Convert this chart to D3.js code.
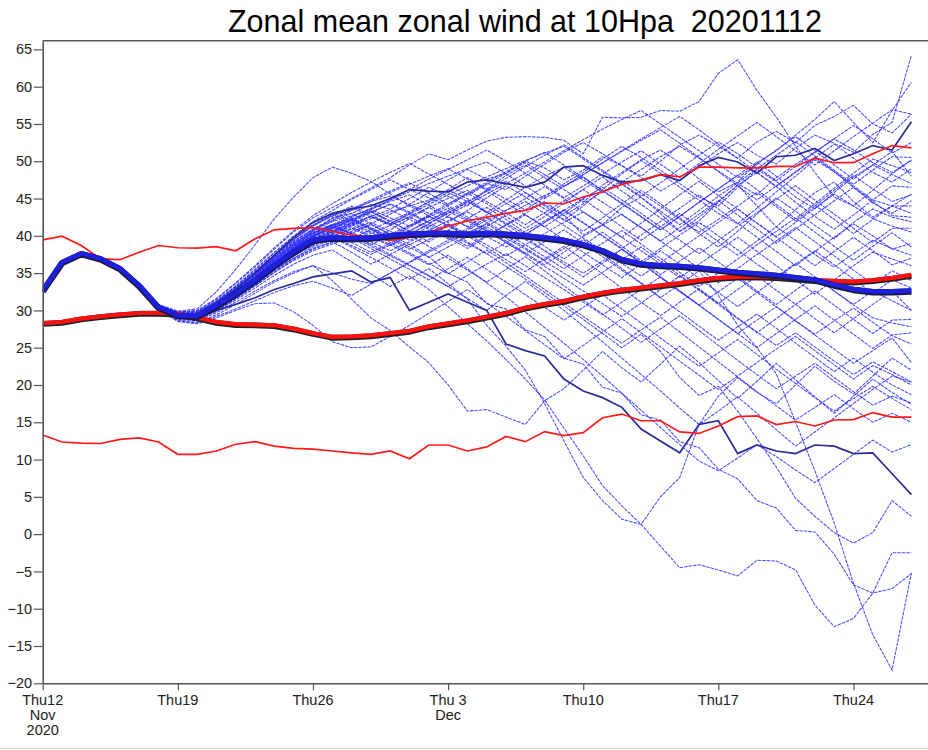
<!DOCTYPE html>
<html><head><meta charset="utf-8">
<script src="https://cdn.jsdelivr.net/npm/d3@7"></script>
<style>
body{margin:0;background:#fff;}
svg{display:block;font-family:"Liberation Sans",Arial,Helvetica,sans-serif;}
</style>
</head><body>
<svg id="chart" width="928" height="750"></svg>
<script>
// ---------------- DATA ----------------
const titleText = "Zonal mean zonal wind at 10Hpa  20201112";
const forecastDays = d3.range(46); // day 0 = Thu 12 Nov 2020 ... day 45 = 27 Dec

const xTickDays  = [0, 7, 14, 21, 28, 35, 42];
const xTickLine1 = ["Thu12", "Thu19", "Thu26", "Thu 3", "Thu10", "Thu17", "Thu24"];
const xTickLine2 = ["Nov", "", "", "Dec", "", "", ""];
const xTickLine3 = ["2020", "", "", "", "", "", ""];
const yTicks = [-20, -15, -10, -5, 0, 5, 10, 15, 20, 25, 30, 35, 40, 45, 50, 55, 60, 65];

const ensMean = [32.6,36.4,37.6,36.9,35.6,33.3,30.4,29.3,29.2,30.6, 32.2,34.0,36.0,37.8,39.4,39.7,39.6,39.7,40.0,40.2, 40.3,40.3,40.2,40.3,40.2,40.0,39.7,39.4,38.8,38.0, 36.8,36.2,36.0,35.9,35.7,35.4,35.1,34.9,34.7,34.4, 34.1,33.4,32.8,32.5,32.5,32.6];
const climMean = [28.25,28.4,28.85,29.15,29.4,29.6,29.6,29.5,29.0,28.4, 28.1,28.05,27.95,27.5,26.9,26.4,26.45,26.6,26.9,27.2, 27.8,28.2,28.6,29.1,29.6,30.3,30.8,31.2,31.8,32.3, 32.7,33.0,33.3,33.6,34.0,34.3,34.45,34.5,34.4,34.2, 34.0,33.9,33.8,34.0,34.3,34.7];
const climMax = [39.45,39.95,38.7,36.9,36.8,37.8,38.7,38.4,38.35,38.55, 38.0,39.6,40.8,41.0,41.1,40.6,40.1,39.8,39.4,39.8, 40.4,41.3,42.0,42.5,43.0,43.4,44.4,44.3,45.2,45.9, 46.9,47.5,48.2,47.9,49.2,49.2,49.1,49.1,49.3,49.3, 50.4,49.8,49.8,51.0,52.1,51.8];
const climMin = [13.3,12.35,12.2,12.15,12.7,12.9,12.35,10.7,10.7,11.15, 12.05,12.4,11.8,11.5,11.4,11.15,10.9,10.7,11.15,10.1, 11.95,11.95,11.15,11.7,13.1,12.4,13.75,13.2,13.6,15.6, 16.1,15.2,15.2,13.7,13.5,14.5,15.75,15.85,14.7,15.1, 14.5,15.3,15.35,16.3,15.7,15.7];
const controlA = [32.6,36.4,37.6,36.9,35.6,33.3,30.5,29.4,29.4,30.9, 32.8,35.0,37.4,39.8,41.8,43.0,43.6,44.0,45.0,46.2, 46.0,45.9,47.2,47.5,47.0,46.5,47.2,49.2,49.4,48.1, 47.2,47.4,48.2,47.4,49.4,50.5,49.9,48.4,50.6,50.8, 51.7,50.1,51.0,52.1,51.5,55.3];
const controlB = [32.6,36.4,37.6,36.9,35.6,33.3,30.4,29.2,29.1,30.0, 30.8,31.7,32.8,33.6,34.5,34.9,35.3,33.8,34.4,30.0, 31.1,32.2,31.1,30.0,25.5,24.6,23.9,20.8,19.2,18.3, 17.0,14.1,12.5,10.9,14.7,15.2,10.8,11.95,11.15,10.8, 11.95,11.8,10.8,10.9,8.1,5.3];

const m01 = [32.6,36.4,37.6,36.9,35.7,33.5,30.8,29.9,30.2,32.5, 35.5,38.8,42.3,45.2,47.8,49.2,48.4,47.3,45.6,44.0, 44.8,46.1,45.0,43.2,41.5,43.0,44.6,42.8,40.1,41.5, 43.8,45.2,43.0,40.6,42.0,44.5,46.8,44.0,41.2,43.5, 45.8,47.2,44.6,42.5,44.0,45.6];
const m02 = [32.6,36.4,37.6,36.9,35.6,33.4,30.7,29.8,29.9,31.5, 33.6,35.8,38.2,40.5,42.4,43.8,45.0,46.4,47.8,49.5, 51.0,50.2,51.5,52.7,53.2,53.3,53.2,52.8,51.0,55.9, 55.8,55.9,56.8,56.7,58.0,61.8,63.6,59.5,55.9,52.0, 48.5,45.2,44.0,46.1,48.3,50.2];
const m03 = [32.6,36.4,37.6,36.9,35.6,33.2,30.5,29.4,29.4,30.9, 32.8,34.9,37.2,39.5,41.3,42.8,43.5,44.6,45.3,44.2, 45.8,47.5,48.9,47.6,48.4,50.0,49.1,47.5,48.8,50.6, 49.4,47.8,46.0,47.5,49.2,51.0,52.5,50.8,49.6,51.8, 53.5,52.4,51.2,53.6,55.2,64.2];
const m04 = [32.6,36.4,37.6,36.9,35.6,33.3,30.4,29.2,29.0,30.4, 32.1,34.0,36.3,38.4,40.6,42.4,43.0,44.2,43.6,45.0, 46.5,45.3,44.0,46.2,48.1,49.5,47.8,46.2,44.5,46.8, 48.5,50.2,51.5,49.8,47.6,45.9,47.2,49.8,51.4,53.5, 55.6,58.0,55.2,52.5,56.8,60.6];
const m05 = [32.6,36.4,37.6,36.9,35.6,33.3,30.5,29.5,29.6,31.0, 32.9,35.1,37.4,39.6,41.5,42.9,42.0,43.5,44.8,46.2, 45.1,44.0,45.6,47.0,46.2,48.0,49.6,51.2,52.5,51.0, 49.4,48.0,50.0,52.2,53.5,52.0,50.4,52.6,54.0,52.5, 54.8,56.0,57.5,55.0,53.8,56.3];
const m06 = [32.6,36.4,37.6,36.9,35.6,33.3,30.3,29.1,29.0,30.3, 32.0,33.8,35.9,37.7,39.2,40.5,41.8,43.1,44.3,43.2, 44.5,45.8,44.6,43.1,44.8,46.5,48.0,49.2,47.5,45.8, 47.2,48.9,50.6,52.0,50.4,48.7,47.0,45.5,47.8,49.6, 51.2,53.0,51.5,49.8,48.5,50.1];
const m07 = [32.6,36.4,37.6,36.9,35.6,33.4,30.6,29.7,29.8,31.2, 33.2,35.4,37.7,39.8,41.4,42.6,43.8,42.5,41.6,43.0, 44.6,46.2,47.8,46.3,44.9,43.5,45.2,47.0,48.5,50.3, 52.0,50.5,48.8,47.0,45.2,44.0,46.5,48.9,47.3,45.2, 43.6,45.8,47.9,49.5,48.2,47.0];
const m08 = [32.6,36.4,37.6,36.9,35.6,33.2,30.3,29.2,29.1,30.5, 32.3,34.3,36.4,38.3,40.0,41.2,40.3,41.6,42.9,44.2, 43.0,41.8,43.4,45.1,46.7,45.2,43.6,42.1,44.0,46.2, 48.3,50.1,48.4,46.5,44.8,43.0,41.6,43.7,45.9,48.0, 50.2,48.6,46.5,44.4,43.0,44.7];
const m09 = [32.6,36.4,37.6,36.9,35.6,33.3,30.4,29.3,29.3,30.7, 32.5,34.5,36.8,38.9,40.7,41.9,42.7,43.5,42.4,41.3, 42.8,44.3,45.7,44.3,42.6,41.0,42.6,44.4,46.2,47.9, 46.0,44.2,42.4,40.6,42.5,44.6,46.8,48.5,46.6,44.5, 42.6,40.9,42.8,44.8,44.0,43.0];
const m10 = [32.6,36.4,37.6,36.9,35.6,33.3,30.5,29.4,29.5,31.0, 32.8,34.9,37.1,39.0,40.6,41.5,40.4,39.5,40.8,42.3, 43.8,42.5,41.2,42.8,44.3,45.8,44.0,42.2,40.6,42.4, 44.3,46.1,44.3,42.4,40.3,38.5,40.6,42.9,45.1,43.3, 41.4,39.6,41.8,43.6,42.5,41.9];
const m11 = [32.6,36.4,37.6,36.9,35.6,33.3,30.4,29.2,29.2,30.6, 32.4,34.4,36.4,38.2,39.9,41.1,42.2,41.0,39.8,41.1, 42.6,41.4,40.0,41.7,43.4,45.0,46.6,45.0,43.2,41.5, 39.8,41.7,43.6,45.5,47.3,45.4,43.6,41.7,39.9,41.8, 43.7,45.6,44.0,42.3,41.3,40.5];
const m12 = [32.6,36.4,37.6,36.9,35.6,33.3,30.4,29.2,29.0,30.3, 31.9,33.8,35.8,37.6,39.0,40.2,41.4,42.6,41.5,40.2, 41.6,43.0,44.5,46.0,44.4,42.8,41.2,43.0,44.9,43.1, 41.2,39.4,41.2,43.0,41.1,39.2,37.4,39.3,41.2,39.4, 37.5,35.8,37.6,39.4,38.3,37.4];
const m13 = [32.6,36.4,37.6,36.9,35.6,33.3,30.3,29.0,28.9,30.2, 31.8,33.6,35.5,37.3,38.9,40.0,41.0,39.8,38.7,39.9, 41.2,42.6,41.3,39.9,38.5,40.1,41.8,43.5,41.8,40.0, 38.2,36.5,38.3,40.1,41.8,40.0,38.1,36.2,34.5,36.3, 34.5,32.6,30.8,32.6,31.3,30.0];
const m14 = [32.6,36.4,37.6,36.9,35.6,33.3,30.5,29.5,29.4,30.8, 32.6,34.6,36.7,38.6,40.2,41.3,42.3,43.3,42.0,40.6, 39.2,40.7,42.3,43.8,42.2,40.4,38.6,36.9,38.7,40.5, 38.6,36.7,34.8,36.6,38.4,36.5,34.5,32.6,30.8,32.7, 34.5,32.6,30.7,29.0,28.3,27.8];
const m15 = [32.6,36.4,37.6,36.9,35.6,33.3,30.4,29.3,29.3,30.6, 32.3,34.2,36.2,38.0,39.5,40.6,41.5,40.3,41.4,42.5, 41.2,39.8,38.3,39.9,41.5,39.8,38.0,36.2,34.5,36.3, 38.2,36.3,34.4,32.5,30.7,32.5,34.3,32.4,30.5,28.6, 26.8,28.6,30.3,28.4,26.6,25.5];
const m16 = [32.6,36.4,37.6,36.9,35.6,33.3,30.4,29.1,29.0,30.2, 31.9,33.7,35.6,37.3,38.7,39.7,40.6,41.5,40.2,38.8, 40.1,41.5,40.0,38.4,36.8,35.2,36.9,38.6,36.8,34.9, 33.0,31.1,29.3,31.1,32.9,31.0,29.0,27.1,25.3,27.0, 25.1,23.2,21.4,23.1,21.8,20.4];
const m17 = [32.6,36.4,37.6,36.9,35.6,33.3,30.6,29.6,29.7,31.2, 33.1,35.2,37.4,39.3,40.9,42.0,43.0,41.6,40.2,41.4, 42.7,44.0,42.5,40.9,39.3,37.7,36.1,37.8,39.5,37.6, 35.6,33.7,31.7,29.8,27.9,26.0,27.8,29.5,27.6,25.6, 23.7,21.8,23.6,21.7,20.0,18.7];
const m18 = [32.6,36.4,37.6,36.9,35.6,33.3,30.4,29.3,29.2,30.5, 32.1,33.9,35.8,37.5,38.9,39.9,38.7,37.5,38.8,40.1, 38.6,37.0,35.4,33.8,35.5,37.2,35.3,33.3,31.4,29.5, 27.6,25.7,27.5,29.3,27.3,25.3,23.3,21.4,19.5,21.2, 22.9,21.0,19.1,17.3,18.5,17.6];
const m19 = [32.6,36.4,37.6,36.9,35.6,33.3,30.3,29.0,28.8,30.0, 31.6,33.3,35.1,36.7,38.0,38.9,39.7,38.3,36.9,35.5, 34.1,35.6,37.1,35.5,33.8,32.1,30.4,28.7,30.4,32.1, 30.2,28.3,26.3,24.4,22.5,24.3,26.1,24.1,22.1,20.2, 18.3,16.5,18.2,19.8,18.2,16.7];
const m20 = [32.6,36.4,37.6,36.9,35.6,33.3,30.5,29.4,29.5,30.9, 32.7,34.7,36.7,38.5,40.0,41.0,41.8,40.5,39.1,37.7, 36.3,34.9,36.5,38.1,36.4,34.6,32.8,31.0,29.2,27.4, 25.6,27.4,29.1,27.1,25.1,23.1,21.1,19.1,17.2,15.3, 17.0,18.7,16.8,15.0,16.2,15.0];
const m21 = [32.6,36.4,37.6,36.9,35.6,33.3,30.5,29.4,29.4,30.8, 32.6,34.5,36.6,38.5,40.0,41.1,42.0,40.8,39.5,40.7, 42.0,43.3,42.0,40.6,39.1,37.6,39.2,40.8,39.0,37.2, 35.4,33.6,31.7,33.5,35.3,32.0,28.0,25.0,21.5,15.0, 8.5,1.5,-6.6,-13.5,-18.2,-5.2];
const m22 = [32.6,36.4,37.6,36.9,35.6,33.3,30.3,29.1,29.0,30.2, 31.8,33.5,35.4,37.0,38.3,39.2,37.8,36.2,37.5,38.9, 37.2,35.0,33.8,30.9,30.2,27.4,26.5,23.6,22.8,19.7, 18.9,16.0,15.3,12.4,11.6,8.7,7.4,4.5,3.5,0.5, 0.3,-2.7,-6.8,-7.9,-7.3,-5.3];
const m23 = [32.6,36.4,37.6,36.9,35.6,33.3,30.4,29.2,29.1,30.4, 32.0,33.8,35.7,37.4,38.8,39.8,38.5,37.1,35.7,34.2, 35.6,33.6,31.5,28.0,25.2,22.0,17.5,12.5,7.6,4.5, 2.0,1.3,5.0,7.6,14.7,18.5,21.0,19.0,17.5,20.0, 22.5,20.5,18.8,21.2,23.6,22.0];
const m24 = [32.6,36.4,37.6,36.9,35.6,33.3,30.6,29.6,29.7,31.1, 32.9,34.9,37.0,38.9,40.4,41.4,42.2,40.9,39.6,38.2, 39.5,40.8,39.2,37.6,35.9,34.2,32.4,30.6,28.8,26.9, 25.0,26.8,24.5,21.0,18.6,19.8,16.5,12.8,9.0,4.8, 2.4,0.2,-1.2,0.2,4.5,2.4];
const m25 = [32.6,36.4,37.6,36.9,35.6,33.3,30.3,28.9,28.7,29.9, 31.4,33.0,34.7,36.2,37.4,38.1,36.5,34.9,33.2,34.6, 32.8,30.5,28.2,25.9,23.4,20.8,18.0,14.2,10.5,6.5, 3.8,1.3,-1.6,-4.5,-4.1,-4.8,-5.6,-3.5,-3.6,-4.8, -9.5,-12.4,-11.3,-7.9,-2.5,-2.5];
const m26 = [32.6,36.4,37.6,36.9,35.6,33.3,30.2,28.7,28.4,29.4, 30.8,32.3,33.8,35.0,36.0,34.0,31.5,29.0,27.3,25.1, 23.0,20.0,16.5,16.7,15.7,14.7,17.9,19.5,22.0,24.5, 22.3,20.4,22.8,25.2,23.0,20.6,18.2,20.5,22.9,20.7, 18.4,16.2,18.5,20.8,19.0,17.4];
const m27 = [32.6,36.4,37.6,36.9,35.6,33.3,30.4,29.2,29.1,30.5, 32.2,34.0,35.9,37.7,39.1,40.2,41.2,40.0,38.8,37.5, 36.1,37.4,35.6,33.7,31.8,29.8,27.7,25.6,23.4,21.2, 18.9,16.6,14.3,12.0,9.8,8.5,10.2,12.0,10.4,8.6, 6.9,8.8,10.7,12.6,11.0,12.0];
const m28 = [32.6,36.4,37.6,36.9,35.6,33.3,30.5,29.5,29.6,31.0, 32.8,34.8,36.9,38.8,40.4,41.5,40.2,38.9,37.5,36.1, 34.7,33.2,31.6,30.0,32.0,33.9,32.0,30.0,27.9,25.8, 23.6,21.4,19.2,16.9,14.7,16.5,18.4,16.2,14.0,11.8, 13.7,15.6,17.5,19.4,21.2,20.4];
const m29 = [32.6,36.4,37.6,36.9,35.6,33.3,30.4,29.3,29.3,30.7, 32.4,34.3,36.4,38.3,39.9,41.0,42.1,43.2,44.2,43.0, 41.7,43.1,44.6,46.0,47.3,45.8,44.2,42.7,44.3,45.9, 47.4,45.7,44.0,42.2,40.5,42.2,44.0,45.8,43.9,42.0, 44.0,46.1,48.1,46.3,44.6,45.5];
const m30 = [32.6,36.4,37.6,36.9,35.6,33.3,30.5,29.5,29.6,31.0, 32.9,35.0,37.2,39.2,40.9,42.3,43.6,44.8,46.0,47.1, 45.7,44.2,45.7,47.2,48.6,50.0,51.2,49.5,47.8,46.0, 44.3,42.5,40.8,42.6,44.5,46.3,48.1,46.2,44.2,42.3, 44.3,46.4,48.4,50.3,49.4,48.5];
const m31 = [32.6,36.4,37.6,36.9,35.6,33.3,30.3,29.0,28.9,30.2, 31.8,33.6,35.5,37.3,38.8,39.9,40.9,41.8,40.6,39.4, 40.7,42.0,43.2,41.8,40.3,38.8,37.2,35.6,37.3,39.0, 40.7,38.9,37.0,35.1,33.2,35.0,36.9,38.8,40.6,42.4, 40.5,38.6,36.7,38.6,40.4,38.5];
const m32 = [32.6,36.4,37.6,36.9,35.6,33.3,30.4,29.1,29.0,30.3, 32.0,33.8,35.8,37.6,39.2,40.3,39.1,37.8,39.0,40.3, 41.5,40.1,38.6,40.0,41.4,42.8,41.2,39.5,37.8,36.1, 34.4,36.2,38.0,36.2,34.3,32.4,30.5,32.4,34.3,36.2, 38.0,36.1,34.2,32.3,34.1,33.0];
const m33 = [32.6,36.4,37.6,36.9,35.6,33.3,30.4,29.3,29.2,30.6, 32.3,34.2,36.2,38.0,39.6,40.7,41.7,42.6,43.5,42.2, 40.9,39.6,41.0,42.4,41.0,39.5,38.0,36.5,35.0,36.6, 38.2,36.4,34.5,32.6,30.7,28.8,26.9,28.7,30.5,28.6, 26.7,24.8,22.9,24.6,26.3,23.0];
const m34 = [32.6,36.4,37.6,36.9,35.6,33.3,30.5,29.5,29.5,31.0, 32.9,34.9,37.1,39.1,40.8,42.1,43.4,44.6,45.8,46.9, 48.0,49.0,47.6,46.1,47.7,49.3,50.8,52.2,50.5,48.8, 47.0,45.3,47.1,49.0,50.8,52.6,51.0,49.2,47.4,49.3, 51.2,53.0,54.8,53.0,51.1,52.5];
const m35 = [32.6,36.4,37.6,36.9,35.6,33.3,30.4,29.2,29.1,30.5, 32.2,34.1,36.1,37.9,39.5,40.6,41.6,42.6,41.4,42.6, 43.8,45.0,46.1,44.6,43.1,41.5,43.1,44.7,46.2,44.5, 42.8,41.1,39.3,41.1,42.9,44.7,42.8,40.9,39.0,40.9, 42.8,44.7,46.5,44.6,42.7,42.5];
const m36 = [32.6,36.4,37.6,36.9,35.6,33.3,30.3,29.0,28.8,30.1, 31.7,33.4,35.3,37.0,38.5,39.5,40.4,39.2,38.0,39.2, 40.4,41.6,40.2,38.8,37.3,38.8,40.3,41.8,43.2,41.5, 39.8,38.0,36.2,34.4,36.2,38.0,39.8,37.9,36.0,34.1, 32.2,34.1,36.0,37.8,36.9,36.0];
const m37 = [32.6,36.4,37.6,36.9,35.6,33.3,30.6,29.7,29.8,31.3, 33.3,35.5,37.8,40.0,41.9,43.4,44.9,46.2,47.5,46.2, 47.6,48.9,50.2,51.5,50.0,48.4,49.9,51.4,52.9,54.3, 55.6,56.8,55.0,53.2,51.4,49.6,47.8,49.6,51.5,53.3, 51.4,49.5,47.6,49.5,51.3,48.0];
const m38 = [32.6,36.4,37.6,36.9,35.6,33.3,30.4,29.4,29.4,30.9, 32.7,34.7,36.8,38.7,40.3,41.5,42.6,43.6,44.6,45.5, 44.1,42.7,44.2,45.6,47.0,48.4,46.8,45.1,46.7,48.3, 49.9,51.4,49.6,47.8,49.7,51.6,53.4,55.2,53.3,51.4, 49.5,51.4,53.3,55.1,56.9,56.3];
const m39 = [32.6,36.4,37.6,36.9,35.6,33.3,30.4,29.2,29.2,30.6, 32.4,34.3,36.3,38.1,39.7,40.8,39.6,40.8,42.0,43.1, 41.8,40.4,39.0,37.6,39.1,40.6,42.0,43.4,41.7,40.0, 38.3,40.1,41.9,43.7,45.5,43.6,41.7,39.8,37.9,36.0, 37.9,39.8,41.6,40.0,38.2,39.0];
const m40 = [32.6,36.4,37.6,36.9,35.6,33.3,30.5,29.4,29.5,30.9, 32.7,34.7,36.8,38.7,40.3,41.4,42.4,41.1,39.8,38.5, 37.1,38.5,39.9,41.2,39.7,38.2,36.6,35.0,33.4,35.1, 36.8,38.5,36.6,34.7,32.8,30.9,32.8,34.6,32.7,30.8, 28.9,27.0,28.9,30.8,32.6,30.0];
const m41 = [32.6,36.4,37.6,36.9,35.6,33.3,30.4,29.3,29.3,30.7, 32.5,34.5,36.6,38.5,40.1,41.3,42.5,43.7,44.8,45.9, 47.0,48.0,49.0,49.9,48.3,46.7,45.0,46.6,48.2,49.8, 51.3,52.8,54.2,52.4,50.5,48.6,46.7,44.8,46.7,48.6, 50.5,48.6,46.7,44.8,46.7,46.5];
const m42 = [32.6,36.4,37.6,36.9,35.6,33.3,30.3,29.0,28.9,30.1, 31.6,33.3,35.1,36.8,38.2,39.1,39.9,38.6,37.3,36.0, 34.6,33.2,34.7,36.2,37.6,36.0,34.4,32.8,31.1,29.4, 31.1,32.8,34.5,32.6,30.7,28.8,26.9,25.0,26.9,28.8, 30.6,28.7,26.8,24.9,26.7,27.0];
const m43 = [32.6,36.4,37.6,36.9,35.6,33.3,30.4,29.3,29.2,30.6, 32.3,34.2,36.3,38.2,39.8,41.0,42.1,43.2,41.9,40.6, 42.0,43.4,44.7,43.2,41.7,40.2,41.8,43.4,45.0,46.5, 44.8,43.0,41.2,39.4,37.6,39.4,41.3,43.1,44.9,46.7, 44.8,42.9,41.0,39.1,41.0,41.0];
const m44 = [32.6,36.4,37.6,36.9,35.6,33.3,30.2,28.6,28.3,29.2, 30.2,31.3,32.4,33.3,33.9,33.0,32.0,33.5,35.0,36.4, 37.8,39.1,40.4,41.6,40.0,38.4,36.7,38.3,39.9,41.4, 42.9,41.1,39.3,37.5,35.6,33.7,35.6,37.5,39.3,41.1, 39.2,37.3,35.4,33.5,35.3,34.0];
const m45 = [32.6,36.4,37.6,36.9,35.6,33.3,30.1,28.5,28.2,29.0, 30.0,30.9,31.0,29.8,28.0,25.8,25.0,25.1,26.5,28.0, 29.6,31.2,32.8,31.0,29.2,27.3,25.4,23.5,25.3,27.1, 28.9,27.0,25.1,23.2,21.3,19.4,21.2,23.0,24.8,26.5, 24.6,22.7,20.8,22.6,21.4,20.0];
const m46 = [32.6,36.4,37.6,36.9,35.6,33.3,30.2,28.8,28.6,29.7, 31.1,32.6,34.0,35.2,36.0,35.0,34.2,33.6,35.0,36.5, 38.0,39.4,40.8,42.1,43.4,44.6,43.0,41.4,39.7,38.0, 36.3,34.6,36.4,38.2,40.0,41.8,43.6,41.7,39.8,37.9, 36.0,37.9,39.8,38.0,36.1,37.0];
const m47 = [32.6,36.4,37.6,36.9,35.6,33.3,30.5,29.6,29.7,31.2, 33.1,35.2,37.4,39.5,41.3,42.7,44.0,42.8,41.6,42.9, 44.2,45.5,46.7,47.9,49.0,50.1,51.1,52.0,50.3,48.6, 46.9,45.1,43.3,41.5,43.4,45.3,47.1,49.0,50.8,52.6, 50.7,48.8,46.9,48.8,50.6,50.5];
const m48 = [32.6,36.4,37.6,36.9,35.6,33.3,30.4,29.2,29.1,30.5, 32.2,34.0,36.0,37.8,39.3,40.4,41.4,42.3,43.2,44.0, 42.7,41.3,39.9,41.3,42.7,44.1,45.4,46.7,47.9,46.1, 44.4,42.6,40.8,42.6,44.5,46.3,48.1,49.9,48.0,46.0, 44.1,42.2,40.3,42.2,44.0,44.0];
const m49 = [32.6,36.4,37.6,36.9,35.6,33.3,30.4,29.3,29.3,30.7, 32.4,34.3,36.4,38.3,39.9,41.1,40.0,38.8,40.0,41.3, 42.5,43.7,42.2,40.7,39.1,37.5,35.9,34.3,32.6,30.9, 29.2,31.0,32.8,34.6,32.7,30.8,28.9,27.0,28.9,30.8, 32.6,30.7,28.8,26.9,28.7,28.8];
const m50 = [32.6,36.4,37.6,36.9,35.6,33.3,30.6,29.8,30.0,31.6, 33.7,36.0,38.4,40.7,42.7,44.3,45.8,47.2,48.5,49.7, 48.3,46.9,45.4,46.9,48.4,49.8,48.2,46.6,48.2,49.8, 51.4,53.0,54.5,56.0,54.2,52.3,50.4,48.5,46.6,48.5, 50.4,52.3,50.4,48.5,47.2,49.0];

const members = [m01,m02,m03,m04,m05,m06,m07,m08,m09,m10,m11,m12,m13,m14,m15,m16,m17,m18,m19,m20,
                 m21,m22,m23,m24,m25,m26,m27,m28,m29,m30,m31,m32,m33,m34,m35,m36,m37,m38,m39,m40,
                 m41,m42,m43,m44,m45,m46,m47,m48,m49,m50];

// ---------------- DRAW ----------------
const svg = d3.select("#chart");
const W = 928, H = 750;
const plot = {left: 42.7, right: 928, top: 40.7, bottom: 683.3};

const x = d3.scaleLinear().domain([0, 45.86]).range([plot.left, plot.right]);
const y = d3.scaleLinear().domain([-20, 66.16]).range([plot.bottom, plot.top]);

svg.append("rect").attr("width", W).attr("height", H).attr("fill", "#fff");

svg.append("defs").append("clipPath").attr("id", "clip")
  .append("rect").attr("x", plot.left).attr("y", plot.top)
  .attr("width", plot.right - plot.left).attr("height", plot.bottom - plot.top);

// title
svg.append("text")
  .attr("x", 525).attr("y", 32)
  .attr("text-anchor", "middle")
  .style("white-space", "pre")
  .attr("font-size", 30.5)
  .attr("fill", "#000")
  .text(titleText);

const line = d3.line().x((d, i) => x(forecastDays[i])).y(d => y(d));
const g = svg.append("g").attr("clip-path", "url(#clip)");

// ensemble members
g.selectAll("path.member").data(members).join("path")
  .attr("class", "member")
  .attr("d", line)
  .attr("fill", "none")
  .attr("stroke", "#3030ff")
  .attr("stroke-opacity", 0.88)
  .attr("stroke-width", 1.05)
  .attr("stroke-dasharray", "3.5,1");

// control / deterministic runs
[controlA, controlB].forEach(s => {
  g.append("path").attr("d", line(s)).attr("fill", "none")
    .attr("stroke", "#2a2a98").attr("stroke-width", 1.7);
});

// climatological extremes
[climMax, climMin].forEach(s => {
  g.append("path").attr("d", line(s)).attr("fill", "none")
    .attr("stroke", "#ff1a1a").attr("stroke-width", 1.7);
});

// climatological mean (thick red with dark edge)
g.append("path").attr("d", line(climMean)).attr("fill", "none")
  .attr("stroke", "#222").attr("stroke-width", 5.8).attr("stroke-linejoin", "round")
  .attr("transform", "translate(0,0.5)");
g.append("path").attr("d", line(climMean)).attr("fill", "none")
  .attr("stroke", "#ff1010").attr("stroke-width", 4.2).attr("stroke-linejoin", "round")
  .attr("transform", "translate(0,-0.4)");

// ensemble mean (thick blue with dark edge)
g.append("path").attr("d", line(ensMean)).attr("fill", "none")
  .attr("stroke", "#1a1a40").attr("stroke-width", 6.4).attr("stroke-linejoin", "round")
  .attr("transform", "translate(0,0.5)");
g.append("path").attr("d", line(ensMean)).attr("fill", "none")
  .attr("stroke", "#1f1fe0").attr("stroke-width", 4.6).attr("stroke-linejoin", "round")
  .attr("transform", "translate(0,-0.4)");

// axes
const axisColor = "#555";
const yAxis = svg.append("g").attr("transform", `translate(${plot.left},0)`)
  .call(d3.axisLeft(y).tickValues(yTicks).tickSize(9).tickSizeOuter(0).tickPadding(1.5).tickFormat(d3.format("d")));
yAxis.select(".domain").attr("stroke", axisColor).attr("stroke-width", 1.6);
yAxis.selectAll(".tick line").attr("stroke", axisColor).attr("stroke-width", 1.2);
yAxis.selectAll(".tick text").attr("font-size", 14.5).attr("fill", "#222")
  .attr("font-family", "'Liberation Sans', Arial, sans-serif");

const xAxis = svg.append("g").attr("transform", `translate(0,${plot.bottom})`)
  .call(d3.axisBottom(x).tickValues(xTickDays).tickSize(7).tickSizeOuter(0).tickFormat(() => ""));
xAxis.select(".domain").attr("stroke", axisColor).attr("stroke-width", 1.6);
xAxis.selectAll(".tick line").attr("stroke", axisColor).attr("stroke-width", 1.2);

const xl = svg.append("g").attr("font-size", 14.5).attr("fill", "#222").attr("text-anchor", "middle");
xTickDays.forEach((d, i) => {
  const t = xl.append("text").attr("x", x(d)).attr("y", 705).style("white-space", "pre");
  t.append("tspan").attr("x", x(d)).text(xTickLine1[i]);
  if (xTickLine2[i]) t.append("tspan").attr("x", x(d)).attr("dy", 15).text(xTickLine2[i]);
  if (xTickLine3[i]) t.append("tspan").attr("x", x(d)).attr("dy", 15).text(xTickLine3[i]);
});

// top frame line
svg.append("line").attr("x1", plot.left).attr("x2", plot.right)
  .attr("y1", plot.top).attr("y2", plot.top)
  .attr("stroke", axisColor).attr("stroke-width", 1.6);

// faint page edge at the bottom
svg.append("line").attr("x1", 0).attr("x2", W).attr("y1", 748.5).attr("y2", 748.5)
  .attr("stroke", "#d0d0d0").attr("stroke-width", 1.2);
</script>
</body></html>
